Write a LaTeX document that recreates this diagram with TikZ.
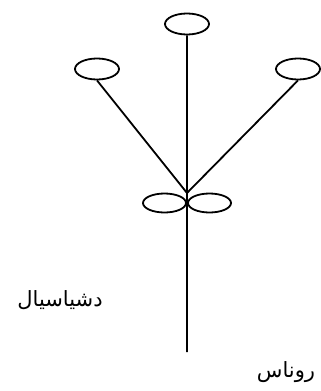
\documentclass[tikz,border=0pt]{standalone}
\usepackage{fontspec}
\usetikzlibrary{shapes.geometric}
\TeXXeTstate=1
\newfontfamily\arabicfont[Script=Arabic]{DejaVu Sans}
\tikzset{
    leaf/.style={draw, ellipse, line width=1.8pt, minimum width=44pt,
        minimum height=21pt, inner sep=0pt},
    bud/.style={leaf, minimum width=43pt, minimum height=19pt},
    word/.style={font=\arabicfont\fontsize{21}{25}\selectfont, inner sep=0pt},
}
\begin{document}
\begin{tikzpicture}[x=1pt,y=-1pt]
    \useasboundingbox (0,0) rectangle (321,391);

    \node [leaf] (topleaf) at (187,24) {};
    \node [leaf] (leftleaf) at (97,69) {};
    \node [leaf] (rightleaf) at (298,69) {};
    \node [bud] (leftbud) at (164.5,203) {};
    \node [bud] (rightbud) at (209.5,203) {};

    \coordinate (fork) at (187,193);
    \coordinate (root) at (187,352);

    \draw [line width=1.8pt]
        (leftleaf.south) -- (fork)
        (rightleaf.south) -- (fork)
        (topleaf.south) -- (root)
        ;

    \node [word] (stemlabel) at (60,300) {\beginR دشیاسیال\endR};
    \node [word] (rootlabel) at (286,372) {\beginR روناس\endR};
\end{tikzpicture}
\end{document}
